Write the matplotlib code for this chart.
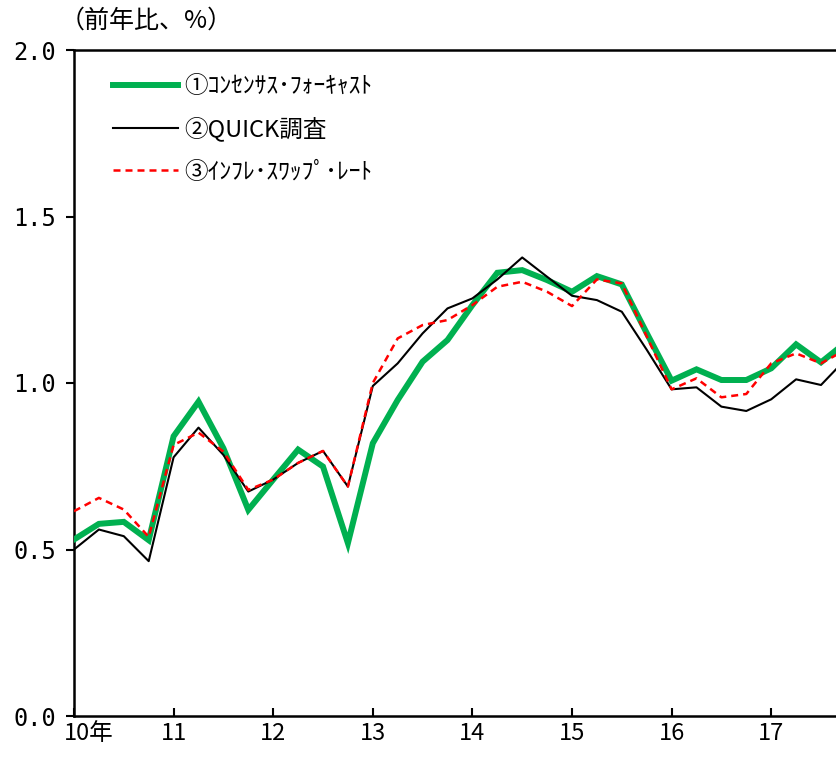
import matplotlib
matplotlib.use("Agg")
import matplotlib.pyplot as plt
import matplotlib.transforms as mtransforms

plt.rcParams['font.family'] = ['Noto Sans CJK JP', 'DejaVu Sans']

# Quarterly observations starting 2010 Q1
consensus = [0.53, 0.577, 0.583, 0.528, 0.84, 0.944, 0.804, 0.619,
             0.71, 0.80, 0.749, 0.519, 0.819, 0.949, 1.064, 1.129,
             1.234, 1.331, 1.339, 1.309, 1.274, 1.321, 1.296, 1.15,
             1.007, 1.041, 1.009, 1.009, 1.044, 1.116, 1.062, 1.122]
quick = [0.50, 0.56, 0.54, 0.465, 0.777, 0.866, 0.784, 0.674,
         0.71, 0.76, 0.796, 0.689, 0.991, 1.059, 1.149, 1.224,
         1.254, 1.311, 1.377, 1.319, 1.262, 1.249, 1.214, 1.10,
         0.981, 0.987, 0.929, 0.916, 0.951, 1.011, 0.994, 1.072]
swap = [0.615, 0.655, 0.62, 0.538, 0.814, 0.851, 0.794, 0.679,
        0.71, 0.76, 0.796, 0.689, 1.0, 1.134, 1.174, 1.189,
        1.234, 1.289, 1.304, 1.274, 1.231, 1.311, 1.299, 1.14,
        0.981, 1.014, 0.957, 0.967, 1.059, 1.089, 1.059, 1.10]

year_labels = ['10年', '11', '12', '13', '14', '15', '16', '17']
y_ticks = [0.0, 0.5, 1.0, 1.5, 2.0]
series_names = ['①ｺﾝｾﾝｻｽ･ﾌｫｰｷｬｽﾄ', '②QUICK調査', '③ｲﾝﾌﾚ･ｽﾜｯﾌﾟ･ﾚｰﾄ']

W, H = 837, 758
fig = plt.figure(figsize=(W / 100, H / 100), dpi=100)
fig.patch.set_facecolor('white')

q_px = 24.9
n_slots = 32
ax = fig.add_axes([74 / W, 42 / H, n_slots * q_px / W, 666 / H])

x = list(range(len(consensus)))
l1, = ax.plot(x, consensus, color='#00B050', lw=4.3, solid_joinstyle='miter', zorder=3)
l2, = ax.plot(x, quick, color='black', lw=1.5, zorder=4)
l3, = ax.plot(x, swap, color='#FF0000', lw=1.8, linestyle=(0, (2.8, 2.0)), zorder=5)

ax.set_xlim(0, n_slots)
ax.set_ylim(0, 2.0)

ax.set_yticks(y_ticks)
ax.set_yticklabels([f'{v:.1f}' for v in y_ticks],
                   family=['DejaVu Sans Mono', 'Noto Sans CJK JP'], fontsize=17)
ax.tick_params(axis='y', direction='out', length=6, width=1.5, pad=7)

ax.set_xticks([4 * i for i in range(len(year_labels))])
ax.set_xticklabels(year_labels, family=['Noto Sans CJK JP'], fontsize=17)
ax.tick_params(axis='x', direction='in', length=6, width=1.5, pad=4)

# shift the first year label right so it stays clear of the y axis
first = ax.get_xticklabels()[0]
first.set_transform(first.get_transform() +
                    mtransforms.ScaledTranslation(15 / 100, 0, fig.dpi_scale_trans))

for side in ['left', 'bottom', 'top', 'right']:
    ax.spines[side].set_linewidth(1.8)

fig.text(60 / W, 1 - 21 / H, '（前年比、%）', fontsize=18, va='center', ha='left',
         family=['Noto Sans CJK JP'])

leg = ax.legend([l1, l2, l3], series_names, loc='upper left',
                bbox_to_anchor=(113 / W, 1 - 75 / H), bbox_transform=fig.transFigure,
                frameon=False, fontsize=17, handlelength=2.75, handletextpad=0.25,
                labelspacing=0.8, borderaxespad=0, borderpad=0)

fig.savefig('out.png', dpi=100)
